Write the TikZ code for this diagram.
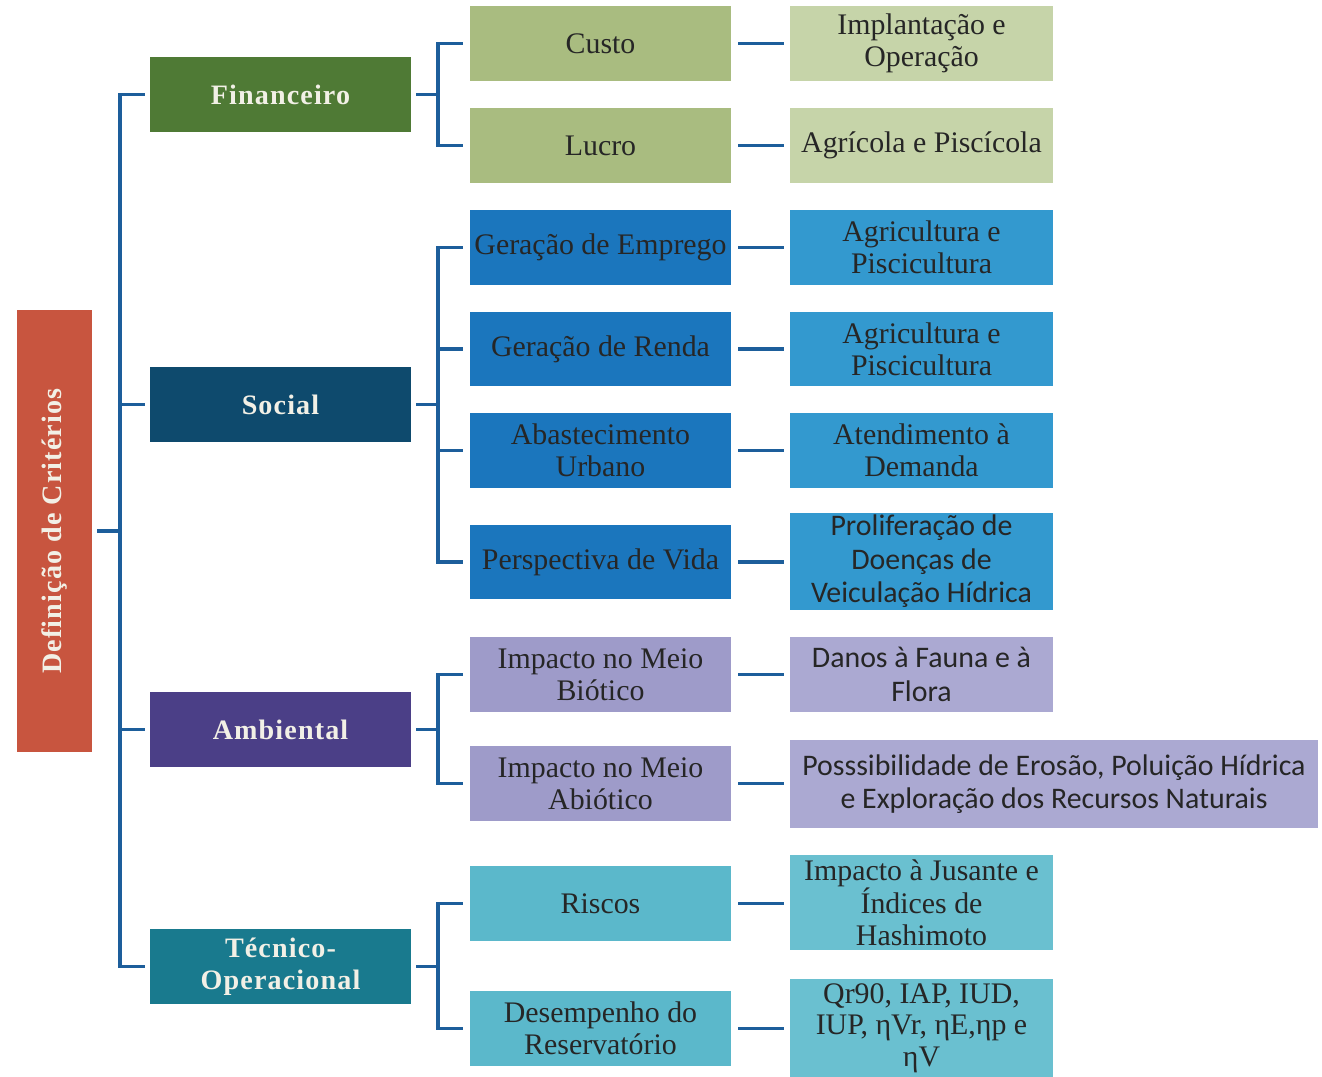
\documentclass[tikz,border=0pt]{standalone}
\usepackage{fontspec}
\setmainfont{Liberation Serif}
\newfontfamily\calib{Carlito}
\newfontfamily\boldsp[LetterSpace=4]{Liberation Serif Bold}
\definecolor{linec}{HTML}{1D5E9B}
\definecolor{rootc}{HTML}{C8553F}
\definecolor{finc}{HTML}{4F7A35}
\definecolor{fintwo}{HTML}{A9BC80}
\definecolor{finthree}{HTML}{C6D4A9}
\definecolor{socc}{HTML}{0E4A6D}
\definecolor{soctwo}{HTML}{1B76BD}
\definecolor{socthree}{HTML}{3399CF}
\definecolor{ambc}{HTML}{4B3F87}
\definecolor{ambtwo}{HTML}{9E9BC9}
\definecolor{ambthree}{HTML}{ABA9D2}
\definecolor{tecc}{HTML}{197A8E}
\definecolor{tectwo}{HTML}{5BB8CB}
\definecolor{tecthree}{HTML}{6AC0D0}
\definecolor{lighttxt}{HTML}{F2F0E6}
\begin{document}
\begin{tikzpicture}[x=0.02cm,y=-0.02cm,
  conn/.style={draw=linec,line width=2.2pt},
  lvone/.style={rectangle,minimum width=5.22cm,minimum height=1.5cm,inner sep=0pt,
    text=lighttxt,font=\boldsp\fontsize{16}{18}\selectfont,align=center},
  lvtwo/.style={rectangle,minimum width=5.22cm,minimum height=1.5cm,inner sep=0pt,
    text=black!85,font=\fontsize{17}{18}\selectfont,align=center},
  lvthree/.style={rectangle,minimum width=5.26cm,minimum height=1.5cm,inner sep=0pt,
    text=black!85,font=\fontsize{17}{18}\selectfont,align=center},
  sansthree/.style={lvthree,font=\calib\fontsize{17}{19}\selectfont}
]
\useasboundingbox (0,0) rectangle (1322,1077);
% root
\node[rectangle,fill=rootc,minimum width=1.5cm,minimum height=8.84cm,inner sep=0pt] (root) at (54.5,531) {};
\node[rotate=90,text=lighttxt,font=\boldsp\fontsize{16}{18}\selectfont] (roottxt) at (root.center) {Definição de Critérios};
% level 1
\node[lvone,fill=finc] (fin) at (280.5,94.5) {Financeiro};
\node[lvone,fill=socc] (soc) at (280.5,404.5) {Social};
\node[lvone,fill=ambc] (amb) at (280.5,729.5) {Ambiental};
\node[lvone,fill=tecc] (tec) at (280.5,966.5) {Técnico-\\Operacional};
% level 2
\node[lvtwo,fill=fintwo] (custo) at (600.5,43.5) {Custo};
\node[lvtwo,fill=fintwo] (lucro) at (600.5,145.5) {Lucro};
\node[lvtwo,fill=soctwo] (emp) at (600.5,247.5) {Geração de Emprego};
\node[lvtwo,fill=soctwo] (renda) at (600.5,349) {Geração de Renda};
\node[lvtwo,fill=soctwo] (abast) at (600.5,450.5) {Abastecimento\\Urbano};
\node[lvtwo,fill=soctwo] (persp) at (600.5,562) {Perspectiva de Vida};
\node[lvtwo,fill=ambtwo] (biot) at (600.5,674.5) {Impacto no Meio\\Biótico};
\node[lvtwo,fill=ambtwo] (abiot) at (600.5,783.5) {Impacto no Meio\\Abiótico};
\node[lvtwo,fill=tectwo] (risc) at (600.5,903.5) {Riscos};
\node[lvtwo,fill=tectwo] (desemp) at (600.5,1028.5) {Desempenho do\\Reservatório};
% level 3
\node[lvthree,fill=finthree] (impl) at (921.5,43.5) {Implantação e\\Operação};
\node[lvthree,fill=finthree] (agri) at (921.5,145.5) {Agrícola e Piscícola};
\node[lvthree,fill=socthree] (agpa) at (921.5,247.5) {Agricultura e\\Piscicultura};
\node[lvthree,fill=socthree] (agpb) at (921.5,349) {Agricultura e\\Piscicultura};
\node[lvthree,fill=socthree] (atend) at (921.5,450.5) {Atendimento à\\Demanda};
\node[sansthree,fill=socthree,minimum height=1.94cm] (prolif) at (921.5,561.5) {Proliferação de\\Doenças de\\Veiculação Hídrica};
\node[sansthree,fill=ambthree] (danos) at (921.5,674.5) {Danos à Fauna e à\\Flora};
\node[sansthree,fill=ambthree,minimum width=10.56cm,minimum height=1.76cm] (poss) at (1054,784) {Posssibilidade de Erosão, Poluição Hídrica\\e Exploração dos Recursos Naturais};
\node[lvthree,fill=tecthree,minimum height=1.9cm] (jus) at (921.5,902.5) {Impacto à Jusante e\\Índices de\\Hashimoto};
\node[lvthree,fill=tecthree,minimum height=1.96cm] (qr) at (921.5,1028) {Qr90, IAP, IUD,\\IUP, ηVr, ηE,ηp e\\ηV};
% spine connectors
\coordinate (sp) at (120,0);
\draw[conn] ([xshift=0.1cm]root.east) -- (root.east -| sp);
\draw[conn] ([xshift=-0.1cm]fin.west) -- (fin.west -| sp) -- (tec.west -| sp) -- ([xshift=-0.1cm]tec.west);
\draw[conn] ([xshift=-0.1cm]soc.west) -- (soc.west -| sp);
\draw[conn] ([xshift=-0.1cm]amb.west) -- (amb.west -| sp);
% brackets
\coordinate (br) at (438,0);
\draw[conn] ([xshift=0.1cm]fin.east) -- (fin.east -| br);
\draw[conn] ([xshift=-0.14cm]custo.west) -- (custo.west -| br) -- (lucro.west -| br) -- ([xshift=-0.14cm]lucro.west);
\draw[conn] ([xshift=0.1cm]soc.east) -- (soc.east -| br);
\draw[conn] ([xshift=-0.14cm]emp.west) -- (emp.west -| br) -- (persp.west -| br) -- ([xshift=-0.14cm]persp.west);
\draw[conn] ([xshift=-0.14cm]renda.west) -- (renda.west -| br);
\draw[conn] ([xshift=-0.14cm]abast.west) -- (abast.west -| br);
\draw[conn] ([xshift=0.1cm]amb.east) -- (amb.east -| br);
\draw[conn] ([xshift=-0.14cm]biot.west) -- (biot.west -| br) -- (abiot.west -| br) -- ([xshift=-0.14cm]abiot.west);
\draw[conn] ([xshift=0.1cm]tec.east) -- (tec.east -| br);
\draw[conn] ([xshift=-0.14cm]risc.west) -- (risc.west -| br) -- (desemp.west -| br) -- ([xshift=-0.14cm]desemp.west);
% level 2 to level 3
\foreach \a/\b in {custo/impl,lucro/agri,emp/agpa,renda/agpb,abast/atend,persp/prolif,biot/danos,risc/jus,desemp/qr}{
  \draw[conn] ([xshift=0.14cm]\a.east) -- ([xshift=-0.12cm]\a.east -| \b.west);
}
\draw[conn] ([xshift=0.14cm]abiot.east) -- ([xshift=-0.12cm]abiot.east -| poss.west);
\end{tikzpicture}
\end{document}
